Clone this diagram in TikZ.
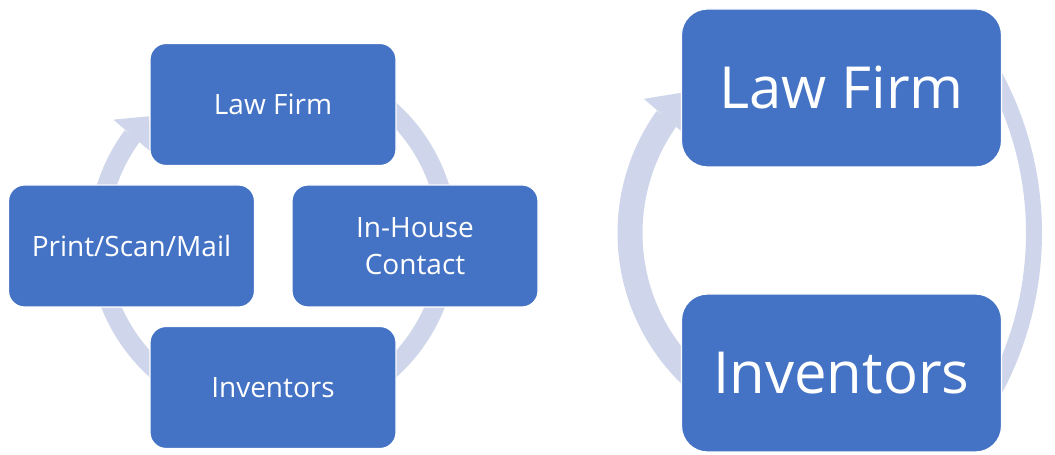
\documentclass[tikz,border=0pt]{standalone}
\usepackage{fontspec}
\setmainfont{Open Sans}
\usetikzlibrary{arrows.meta,bending}
\definecolor{boxblue}{HTML}{4472C4}
\definecolor{ringblue}{HTML}{CFD5EA}
\begin{document}
\begin{tikzpicture}[x=1pt,y=1pt,
  stage/.style={draw=white, line width=1.2pt, fill=boxblue, text=white,
    align=center, inner sep=0pt},
  smallstage/.style={stage, rounded corners=16pt, minimum width=246pt,
    minimum height=122pt, font=\fontsize{28}{37}\selectfont},
  bigstage/.style={stage, rounded corners=26pt, minimum width=320pt,
    minimum height=158pt, font=\fontsize{58}{68}\selectfont},
  ring/.style={draw=ringblue, line width=19pt},
]
\useasboundingbox (0,0) rectangle (1055,455);

% centres of the cycle arcs
\coordinate (cycL)  at (273,215);
\coordinate (cycRa) at (702,222);   % flat right-hand arc
\coordinate (cycRb) at (827,222);   % left-hand arc with the arrow head

% continuous cycle arrows, drawn first so the stages cover them
\draw[ring, -{Triangle[width=50pt,length=26pt,line width=0pt]}]
  (cycL) ++(60:175) arc[start angle=60, end angle=-225, radius=175];
\draw[ring, line width=16pt]
  (cycRa) ++(35:332) arc[start angle=35, end angle=-35, radius=332];
\draw[ring, line width=25pt, -{Triangle[width=60pt,length=36pt,line width=0pt]}]
  (cycRb) ++(-60:197) arc[start angle=-60, end angle=-226, radius=197];

% four-stage cycle
\node[smallstage] (lawL)   at (273,350.5) {Law Firm};
\node[smallstage] (printL) at (131.5,209) {Print/Scan/Mail};
\node[smallstage] (houseL) at (415,209)   {In-House\\Contact};
\node[smallstage] (invL)   at (273,67.5)  {Inventors};

% two-stage cycle
\node[bigstage] (lawR) at (841.5,367) {Law Firm};
\node[bigstage] (invR) at (841.5,82)  {Inventors};
\end{tikzpicture}
\end{document}
